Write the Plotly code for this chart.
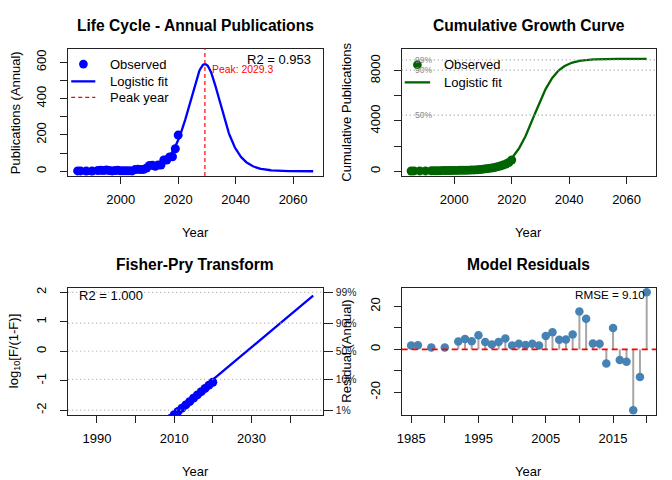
import numpy as np
import plotly.graph_objects as go

# ---------------- data ----------------
years = [1985, 1986, 1988, 1990, 1992, 1993, 1994, 1995, 1996, 1997, 1998, 1999,
         2000, 2001, 2002, 2003, 2004, 2005, 2006, 2007, 2008, 2009, 2010, 2011,
         2012, 2013, 2014, 2015, 2016, 2017, 2018, 2019, 2020]
annual = [2, 2, 1, 1, 4, 5, 4, 7, 4, 2, 4, 5,
          3, 3, 3, 3, 2, 9, 11, 9, 10, 18, 32, 33,
          27, 34, 34, 62, 62, 79, 80, 124, 199]
cumulative = [22, 24, 25, 26, 30, 35, 39, 46, 50, 52, 56, 61,
              64, 67, 70, 73, 75, 84, 95, 104, 114, 132, 164, 197,
              224, 258, 292, 354, 416, 495, 575, 699, 898]
residuals = [1.8, 1.9, 0.9, 0.9, 3.7, 4.8, 3.8, 6.6, 3.5, 2.3, 3.4, 5.1,
             1.8, 2.6, 2.0, 2.6, 1.8, 6.2, 8.0, 4.5, 4.6, 6.9, 17.7, 14.3,
             2.8, 2.6, -6.6, 10.0, -4.9, -5.7, -28.3, -12.8, 26.6]
fp_years = [2008, 2009, 2010, 2011, 2012, 2013, 2014, 2015, 2016, 2017, 2018, 2019, 2020]
fp_values = [-2.39, -2.28, -2.15, -2.04, -1.93, -1.82, -1.71, -1.59, -1.48, -1.37, -1.26, -1.15, -1.05]

# fitted model parameters
peak_annual = 590.0
peak_year = 2029.3
r_annual = 0.265
K_cum = 8940.0
tm_cum = 2027.9
r_cum = 0.255
fp_slope = 0.1095
fp_zero = 2028.8
fit_end = 2067
fp_end = 2046
r2_annual = "R2 = 0.953"
r2_fp = "R2 = 1.000"
rmse_txt = "RMSE = 9.10"
pct_levels = [0.99, 0.90, 0.50]
pct_labels = ["99%", "90%", "50%"]
fp_pct = [0.01, 0.10, 0.50, 0.90, 0.99]
fp_pct_labels = ["1%", "10%", "50%", "90%", "99%"]

# ---------------- model curves ----------------
tfit = np.linspace(years[0], fit_end, 400)
e = np.exp(-r_annual * (tfit - peak_year))
annual_fit = 4 * peak_annual * e / (1 + e) ** 2
cum_fit = K_cum / (1 + np.exp(-r_cum * (tfit - tm_cum)))
tfp = np.linspace(years[0], fp_end, 200)
fp_line = fp_slope * (tfp - fp_zero)

W, H = 672, 480
FONT = "Liberation Sans, Arial, sans-serif"
BLUE = "#0000FF"
GREEN = "#006400"
RED = "#FF0000"
STEEL = "#4682B4"


def px(x):
    return x / W


def py(y):
    return 1 - y / H


XL = [px(63.7), px(320)]
XR = [px(399.7), px(656)]
YT = [py(175.7), py(47.7)]
YB = [py(415.7), py(287.7)]

fig = go.Figure()

# panel 1
fig.add_trace(go.Scatter(x=tfit, y=annual_fit, mode="lines", line=dict(color=BLUE, width=2.3),
                         xaxis="x", yaxis="y", showlegend=False))
fig.add_trace(go.Scatter(x=years, y=annual, mode="markers", marker=dict(color=BLUE, size=9),
                         xaxis="x", yaxis="y", showlegend=False))
# panel 2
fig.add_trace(go.Scatter(x=years, y=cumulative, mode="markers", marker=dict(color=GREEN, size=9),
                         xaxis="x2", yaxis="y2", showlegend=False))
fig.add_trace(go.Scatter(x=tfit, y=cum_fit, mode="lines", line=dict(color=GREEN, width=2.3),
                         xaxis="x2", yaxis="y2", showlegend=False))
# panel 3
fig.add_trace(go.Scatter(x=fp_years, y=fp_values, mode="markers", marker=dict(color=BLUE, size=9),
                         xaxis="x3", yaxis="y3", showlegend=False, cliponaxis=True))
fig.add_trace(go.Scatter(x=tfp, y=fp_line, mode="lines", line=dict(color=BLUE, width=2.3),
                         xaxis="x3", yaxis="y3", showlegend=False))
# invisible trace for right axis
fig.add_trace(go.Scatter(x=[fp_years[0]], y=[0], mode="markers", marker=dict(opacity=0),
                         xaxis="x3", yaxis="y5", showlegend=False, hoverinfo="skip"))
# panel 4 stems
sx, sy = [], []
for yr, rv in zip(years, residuals):
    sx += [yr, yr, None]
    sy += [0, rv, None]
fig.add_trace(go.Scatter(x=sx, y=sy, mode="lines", line=dict(color="#A6A6A6", width=2),
                         xaxis="x4", yaxis="y4", showlegend=False))
fig.add_trace(go.Scatter(x=years, y=residuals, mode="markers", marker=dict(color=STEEL, size=8.5),
                         xaxis="x4", yaxis="y4", showlegend=False))

axcommon = dict(showline=True, mirror=True, linecolor="#222", linewidth=1, ticks="outside",
                ticklen=7, tickcolor="#222", showgrid=False, zeroline=False,
                tickfont=dict(family=FONT, size=13, color="#000"))


def minor(vals):
    return dict(tickvals=vals, ticks="outside", ticklen=7, tickcolor="#222", showgrid=False)


def xax(domain, rng, vals, minor_vals, anchor):
    d = dict(axcommon, domain=domain, range=rng, tickvals=vals, ticktext=[str(v) for v in vals],
             anchor=anchor, ticklabelstandoff=4)
    if minor_vals:
        d["minor"] = minor(minor_vals)
    return d


def yax(domain, rng, vals, minor_vals, anchor):
    d = dict(axcommon, domain=domain, range=rng, tickvals=vals, ticktext=[str(v) for v in vals],
             anchor=anchor, tickangle=-90, ticklabelstandoff=9)
    if minor_vals:
        d["minor"] = minor(minor_vals)
    return d


fp_ticks = [float(np.log10(p / (1 - p))) for p in fp_pct]

fig.update_layout(
    width=W, height=H, margin=dict(l=0, r=0, t=0, b=0),
    paper_bgcolor="white", plot_bgcolor="white",
    font=dict(family=FONT, size=13, color="#000"),
    xaxis=xax(XL, [1981.72, 2070.28], [2000, 2020, 2040, 2060], None, "y"),
    yaxis=yax(YT, [-26, 676], [0, 200, 400, 600], [100, 300, 500], "x"),
    xaxis2=xax(XR, [1981.72, 2070.28], [2000, 2020, 2040, 2060], None, "y2"),
    yaxis2=yax(YT, [-375.5, 9762.5], [0, 4000, 8000], [2000, 6000], "x2"),
    xaxis3=xax(XL, [1982.56, 2048.44], [1990, 2010, 2030], [2000, 2020, 2040], "y3"),
    yaxis3=yax(YB, [-2.16, 2.16], [-2, -1, 0, 1, 2], None, "x3"),
    xaxis4=xax(XR, [1983.6, 2021.4], [1985, 1995, 2005, 2015], [1990, 2000, 2010, 2020], "y4"),
    yaxis4=yax(YB, [-30.52, 28.82], [-20, 0, 20], [-10, 10], "x4"),
    yaxis5=dict(domain=YB, range=[-2.16, 2.16], overlaying="y3", side="right", anchor="x3",
                tickvals=fp_ticks, ticktext=fp_pct_labels, ticks="outside", ticklen=9,
                tickcolor="#222", showline=False, showgrid=False, zeroline=False,
                tickfont=dict(family=FONT, size=10.4, color="#222"), ticklabelstandoff=1),
)

shapes = []
# peak year line
shapes.append(dict(type="line", xref="x", yref="y domain", x0=peak_year, x1=peak_year, y0=0, y1=1,
                   line=dict(color=RED, width=1.2, dash="4px,3px")))
# percent lines panel 2
for p in pct_levels:
    shapes.append(dict(type="line", xref="x2 domain", yref="y2", x0=0, x1=1, y0=p * K_cum, y1=p * K_cum,
                       line=dict(color="#999999", width=1.2, dash="1px,3px")))
# fisher-pry grid
for v in fp_ticks:
    shapes.append(dict(type="line", xref="x3 domain", yref="y3", x0=0, x1=1, y0=v, y1=v,
                       line=dict(color="#AAAAAA", width=1.2, dash="1px,3px")))
# residual zero line
shapes.append(dict(type="line", xref="x4 domain", yref="y4", x0=0, x1=1, y0=0, y1=0,
                   line=dict(color=RED, width=1.6, dash="6px,4px")))


def pt(cx, cy, r, color):
    return dict(type="circle", xref="paper", yref="paper", x0=px(cx - r), x1=px(cx + r),
                y0=py(cy + r), y1=py(cy - r), fillcolor=color, line=dict(color=color, width=0))


def seg(x0, x1, y, color, dash="solid", width=2.3):
    return dict(type="line", xref="paper", yref="paper", x0=px(x0), x1=px(x1), y0=py(y), y1=py(y),
                line=dict(color=color, width=width, dash=dash))


# legend panel 1
shapes.append(pt(79, 63.3, 4.4, BLUE))
shapes.append(seg(66.7, 91, 80.7, BLUE))
shapes.append(seg(66.7, 91, 96.7, RED, "4px,3px", 1.2))
# legend panel 2
shapes.append(pt(415.5, 64, 4.4, GREEN))
shapes.append(seg(402.7, 428.3, 81.7, GREEN))
fig.update_layout(shapes=shapes)

ann = []


def txt(x, y, s, size=13, color="#000", xanchor="left", bold=False, angle=0):
    if bold:
        s = "<b>" + s + "</b>"
    ann.append(dict(xref="paper", yref="paper", x=px(x), y=py(y), text=s, showarrow=False,
                    xanchor=xanchor, yanchor="middle", textangle=angle,
                    font=dict(family=FONT, size=size, color=color)))


# titles
txt(191.9, 25, "Life Cycle - Annual Publications", 15.6, xanchor="center", bold=True)
txt(527.9, 25, "Cumulative Growth Curve", 15.6, xanchor="center", bold=True)
txt(191.9, 265, "Fisher-Pry Transform", 15.6, xanchor="center", bold=True)
txt(527.9, 265, "Model Residuals", 15.6, xanchor="center", bold=True)
# x titles
for cx in (191.9, 527.9):
    txt(cx, 232, "Year", xanchor="center")
    txt(cx, 472, "Year", xanchor="center")
# y titles
txt(10, 111.7, "Publications (Annual)", xanchor="center", angle=-90)
txt(344, 111.7, "Cumulative Publications", xanchor="center", angle=-90)
txt(9, 351.7, "log<sub>10</sub>[F/(1-F)]", xanchor="center", angle=-90)
txt(344, 351.7, "Residual (Annual)", xanchor="center", angle=-90)
# legends text
txt(103.5, 63.3, "Observed")
txt(103.5, 80.7, "Logistic fit")
txt(103.5, 96.7, "Peak year")
txt(440, 64, "Observed")
txt(440, 81.7, "Logistic fit")
# stats
txt(310.5, 59, r2_annual, xanchor="right")
txt(73, 296, r2_fp)
txt(646.5, 295, rmse_txt, 11.7, xanchor="right")
fig.update_layout(annotations=ann)

# data-anchored texts
fig.add_annotation(x=peak_year, y=0.95 * peak_annual, xref="x", yref="y", text="Peak: %.1f" % peak_year,
                   showarrow=False, xanchor="left", yanchor="middle", xshift=5,
                   font=dict(family=FONT, size=10.4, color=RED))
for p, l in zip(pct_levels, pct_labels):
    fig.add_annotation(x=years[0], y=p * K_cum, xref="x2", yref="y2", text=l, showarrow=False,
                       xanchor="left", yanchor="middle", xshift=2,
                       font=dict(family=FONT, size=8.6, color="#888888"))

fig.write_html("out.html", config={"displayModeBar": False},
               post_script="document.body.style.margin='0px';")
